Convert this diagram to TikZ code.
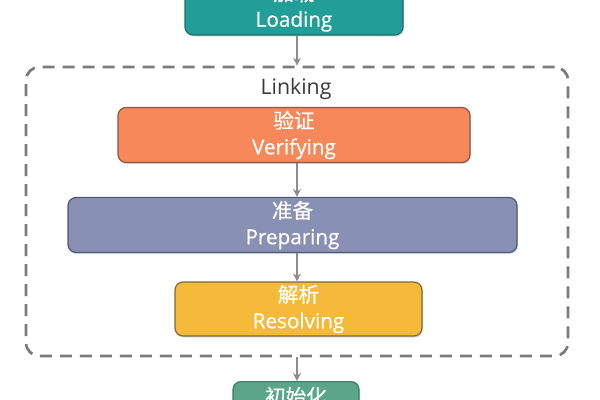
\documentclass[tikz,border=0pt]{standalone}
\usepackage{fontspec}
\setmainfont{Open Sans}
\newfontfamily\semi{Open Sans}[FakeBold=0.5]
\newfontfamily\cjk{Noto Sans CJK SC}[FakeBold=0.5]
\usetikzlibrary{shadows,arrows.meta}
\definecolor{loadfill}{HTML}{229E98}
\definecolor{loaddraw}{HTML}{1C6F6B}
\definecolor{verfill}{HTML}{F7885A}
\definecolor{verdraw}{HTML}{86594A}
\definecolor{prepfill}{HTML}{8891B3}
\definecolor{prepdraw}{HTML}{4E5A72}
\definecolor{resfill}{HTML}{F6BA3A}
\definecolor{resdraw}{HTML}{7A6A3C}
\definecolor{initfill}{HTML}{5BA68A}
\definecolor{initdraw}{HTML}{3D7A63}
\definecolor{dashgray}{HTML}{7A7A80}
\definecolor{arrgray}{HTML}{8C8C8C}
\definecolor{labgray}{HTML}{3A3A3A}
\tikzset{
  stagebox/.style={rounded corners=6pt, line width=0.9pt, align=center,
    text=white, font=\semi\fontsize{15.5}{19.5}\selectfont, inner sep=0pt,
    drop shadow={opacity=0.25, shadow xshift=0.8pt, shadow yshift=-1.2pt}},
  linkbox/.style={draw=dashgray, line width=2pt, dash pattern=on 9pt off 6pt,
    rounded corners=10pt, inner sep=0pt},
  arr/.style={draw=arrgray, line width=1.3pt, -{Stealth[length=6pt,width=6pt]}},
}
\begin{document}
\begin{tikzpicture}[x=0.75pt,y=-0.75pt]
\useasboundingbox (0,0) rectangle (600,400);
\clip (0,0) rectangle (600,400);
\fill[white] (0,0) rectangle (600,400);
\node[linkbox, minimum width=542*0.75pt, minimum height=289*0.75pt] (link) at (297,211.5) {};
\node[font=\fontsize{16}{18}\selectfont, text=labgray] (linklab) at (296,89) {Linking};
\node[stagebox, fill=loadfill, draw=loaddraw, minimum width=218*0.75pt, minimum height=55*0.75pt] (load) at (294,7.5) {{\cjk 加载}\\Loading};
\node[stagebox, fill=verfill, draw=verdraw, minimum width=352*0.75pt, minimum height=55*0.75pt] (verify) at (294,135) {{\cjk 验证}\\Verifying};
\node[stagebox, fill=prepfill, draw=prepdraw, minimum width=449*0.75pt, minimum height=55*0.75pt] (prep) at (292.5,225) {{\cjk 准备}\\Preparing};
\node[stagebox, fill=resfill, draw=resdraw, minimum width=247*0.75pt, minimum height=54*0.75pt] (res) at (298.5,309) {{\cjk 解析}\\Resolving};
\node[stagebox, fill=initfill, draw=initdraw, minimum width=126*0.75pt, inner ysep=3pt, text height=14pt, text depth=20pt, anchor=north] (init) at (296,381) {{\cjk 初始化}};
\draw[arr] (load.south -| link.north) -- (link.north);
\draw[arr] (verify.south -| link.north) -- (prep.north -| link.north);
\draw[arr] (prep.south -| link.north) -- (res.north -| link.north);
\draw[arr] (link.south) -- (init.north -| link.south);
\end{tikzpicture}
\end{document}
